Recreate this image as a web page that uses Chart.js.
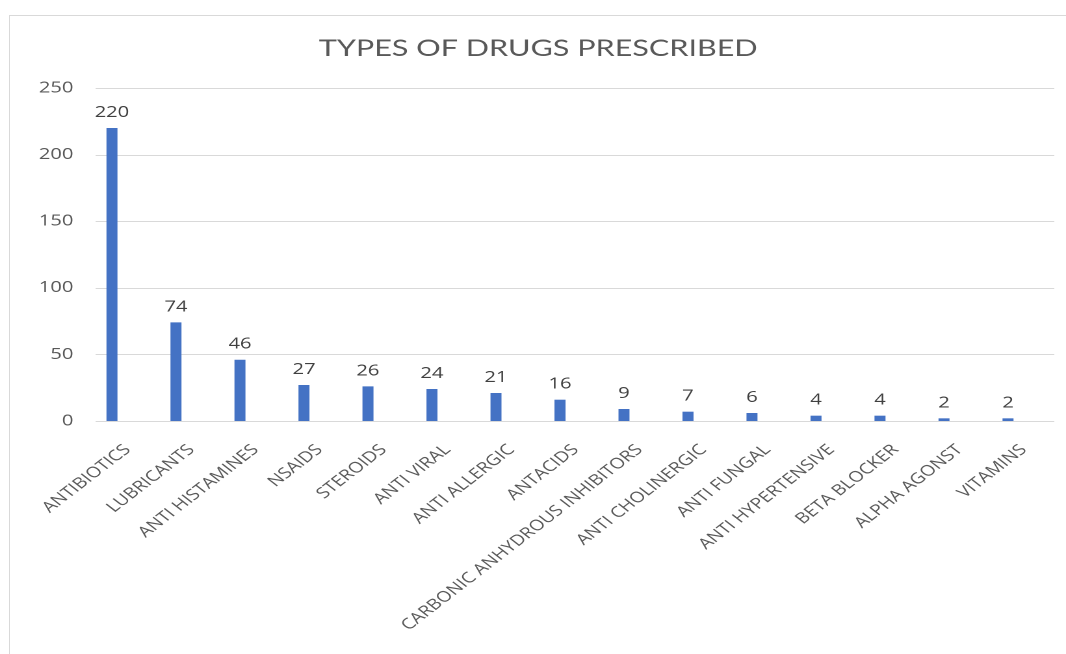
<!DOCTYPE html>
<html lang="en">
<head>
    <meta charset="UTF-8">
    <title>Types of Drugs Prescribed</title>
    <style>
        body {
            margin: 0;
            padding: 0;
            background-color: #ffffff;
            overflow: hidden;
        }

        .frame {
            position: absolute;
            left: 9px;
            top: 15px;
            width: 1100px;
            height: 700px;
            border-left: 1px solid #d9d9d9;
            border-top: 1px solid #d9d9d9;
        }

        /* the chart is drawn narrow and stretched sideways to fill the page */
        .chart-container {
            position: absolute;
            left: 0;
            top: 0;
            width: 820px;
            height: 654px;
            transform: scaleX(1.3);
            transform-origin: 0 0;
        }
    </style>
    <script src="https://cdn.jsdelivr.net/npm/chart.js"></script>
</head>
<body>
    <div class="frame"></div>
    <div class="chart-container">
        <canvas id="drugChart" style="width:820px;height:654px;"></canvas>
    </div>

    <script>
        const drugTypes = [
            'ANTIBIOTICS', 'LUBRICANTS', 'ANTI HISTAMINES', 'NSAIDS', 'STEROIDS',
            'ANTI VIRAL', 'ANTI ALLERGIC', 'ANTACIDS', 'CARBONIC ANHYDROUS INHIBITORS',
            'ANTI CHOLINERGIC', 'ANTI FUNGAL', 'ANTI HYPERTENSIVE', 'BETA BLOCKER',
            'ALPHA AGONST', 'VITAMINS'
        ];
        const prescribed = [220, 74, 46, 27, 26, 24, 21, 16, 9, 7, 6, 4, 4, 2, 2];
        const yTicks = [0, 50, 100, 150, 200, 250];

        const textFont = '"Open Sans", "Liberation Sans", sans-serif';

        // horizontal gridlines, a little wider than the bar area
        const gridLines = {
            id: 'gridLines',
            beforeDatasetsDraw(chart) {
                const ctx = chart.ctx;
                const y = chart.scales.y;
                const area = chart.chartArea;
                ctx.save();
                ctx.strokeStyle = '#d9d9d9';
                ctx.lineWidth = 1;
                y.ticks.forEach(t => {
                    const py = Math.round(y.getPixelForValue(t.value)) + 0.5;
                    ctx.beginPath();
                    ctx.moveTo(area.left + 12, py);
                    ctx.lineTo(area.right + 11, py);
                    ctx.stroke();
                });
                ctx.restore();
            }
        };

        // numbers above each bar
        const valueLabels = {
            id: 'valueLabels',
            afterDatasetsDraw(chart) {
                const ctx = chart.ctx;
                const meta = chart.getDatasetMeta(0);
                const values = chart.data.datasets[0].data;
                ctx.save();
                ctx.font = '15.5px ' + textFont;
                ctx.fillStyle = '#404040';
                ctx.textAlign = 'center';
                ctx.textBaseline = 'alphabetic';
                meta.data.forEach((bar, i) => {
                    ctx.fillText(values[i], bar.x, bar.y - 11);
                });
                ctx.restore();
            }
        };

        const config = {
            type: 'bar',
            data: {
                labels: drugTypes,
                datasets: [{
                    data: prescribed,
                    backgroundColor: '#4472c4',
                    barPercentage: 0.172,
                    categoryPercentage: 1
                }]
            },
            options: {
                responsive: false,
                animation: false,
                devicePixelRatio: 2,
                layout: {
                    padding: { top: 0, right: 20, bottom: 0, left: 28 }
                },
                plugins: {
                    legend: { display: false },
                    tooltip: { enabled: false },
                    title: {
                        display: true,
                        text: 'TYPES OF DRUGS PRESCRIBED',
                        color: '#595959',
                        font: { family: 'Lato, ' + textFont, size: 23.5, weight: 'normal' },
                        padding: { top: 34.5, bottom: 25.3 }
                    }
                },
                scales: {
                    x: {
                        grid: { display: false },
                        border: { display: false },
                        ticks: {
                            autoSkip: false,
                            minRotation: 45,
                            maxRotation: 45,
                            padding: 12,
                            labelOffset: 12,
                            color: '#595959',
                            font: { family: textFont, size: 15 }
                        },
                        afterFit(scale) {
                            scale.height = 233;
                        }
                    },
                    y: {
                        min: 0,
                        max: 250,
                        grid: { display: false, drawTicks: false },
                        border: { display: false },
                        ticks: {
                            padding: 5,
                            color: '#595959',
                            font: { family: textFont, size: 15.5 }
                        },
                        afterBuildTicks(scale) {
                            scale.ticks = yTicks.map(v => ({ value: v }));
                        },
                        afterFit(scale) {
                            scale.width = 33.5;
                        }
                    }
                }
            },
            plugins: [gridLines, valueLabels]
        };

        window.onload = function() {
            const canvas = document.getElementById('drugChart');
            canvas.width = 820;
            canvas.height = 654;
            new Chart(canvas.getContext('2d'), config);
        };
    </script>
</body>
</html>
